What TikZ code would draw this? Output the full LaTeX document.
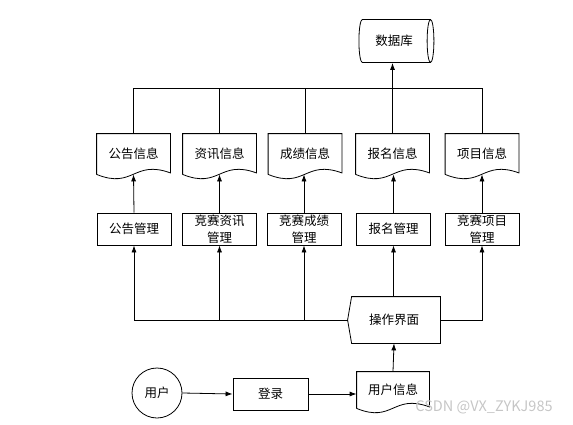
\documentclass[tikz,border=0pt]{standalone}
\usepackage{fontspec}
\setmainfont{Noto Sans CJK SC}
\usetikzlibrary{arrows.meta,shapes.geometric,calc}

\tikzset{
  box/.style={draw,minimum width=74pt,minimum height=32pt,inner sep=1pt,align=center},
  doc/.style={minimum width=73pt,minimum height=40pt,inner sep=1pt,align=center},
  store/.style={draw,cylinder,shape aspect=0.5,minimum height=75pt,minimum width=43pt,inner sep=1pt},
}
% outline of a document shape round a named node
\newcommand{\docline}[1]{%
  \draw (#1.south west) -- (#1.north west) -- (#1.north east) -- ([yshift=1.5pt]#1.south east)
    .. controls ($(#1.south)+(0,15pt)$) and ($(#1.south)+(0,-15pt)$) .. (#1.south west);}

\begin{document}
\begin{tikzpicture}[x=1pt,y=1pt,>={Latex[length=7pt,width=5pt]},line width=0.8pt,
    font=\fontsize{12.5}{16.5}\selectfont]
    \useasboundingbox (0,0) rectangle (573,424);

    % database
    \node[store] (db) at (394,383) {数据库};

    % data documents
    \node[doc] (d1) at (133.5,270) {公告信息};
    \node[doc] (d2) at (219.5,270) {资讯信息};
    \node[doc] (d3) at (305,270) {成绩信息};
    \node[doc] (d4) at (392.5,270) {报名信息};
    \node[doc] (d5) at (482,270) {项目信息};
    \docline{d1} \docline{d2} \docline{d3} \docline{d4} \docline{d5}

    % management boxes
    \node[box] (m1) at (134,195) {公告管理};
    \node[box] (m2) at (219.5,195) {竞赛资讯\\管理};
    \node[box] (m3) at (304,195) {竞赛成绩\\管理};
    \node[box] (m4) at (393.5,195) {报名管理};
    \node[box] (m5) at (482,195) {竞赛项目\\管理};

    % operation screen
    \node[minimum width=92pt,minimum height=46pt] (op) at (394,104) {操作界面};
    \draw ([xshift=4pt]op.north west) -- (op.north east) -- (op.south east)
      -- ([xshift=4pt]op.south west) -- (op.west) -- cycle;

    % login row
    \node[draw,circle,minimum size=50pt,inner sep=0pt] (user) at (157,31) {用户};
    \node[box,minimum width=75pt] (login) at (270.5,30) {登录};
    \node[doc,minimum width=72pt,minimum height=36pt] (info) at (393,34) {用户信息};
    \docline{info}

    % top bus to database
    \coordinate (tbus) at (0,336);
    \draw (d1.north) -- (d1.north |- tbus) -- (d5.north |- tbus) -- (d5.north);
    \draw (d2.north) -- (d2.north |- tbus);
    \draw (d3.north) -- (d3.north |- tbus);
    \draw[->] (d4.north) -- (d4.north |- db.south);

    % management to documents
    \draw[->] (m1.north) -- (d1.south);
    \draw[->] (m2.north) -- (m2.north |- d2.south);
    \draw[->] (m3.north) -- (m3.north |- d3.south);
    \draw[->] (m4.north) -- (m4.north |- d4.south);
    \draw[->] (m5.north) -- (d5.south);

    % lower bus from operation screen
    \draw[->] (op.west) -- (m1.south |- op.west) -- (m1.south);
    \draw[->] (m2.south |- op.west) -- (m2.south);
    \draw[->] (m3.south |- op.west) -- (m3.south);
    \draw[->] (op.north -| m4.south) -- (m4.south);
    \draw[->] (op.east) -- (m5.south |- op.east) -- (m5.south);

    % login flow
    \draw[->] (user.east) -- (login.west);
    \draw[->] (login.east) -- (login.east -| info.west);
    \draw[->] (info.north) -- (op.south);

    \node[text=gray!45,font=\fontsize{14.5}{16}\selectfont] (mark) at (484,17) {CSDN @VX\_ZYKJ985};
\end{tikzpicture}
\end{document}
